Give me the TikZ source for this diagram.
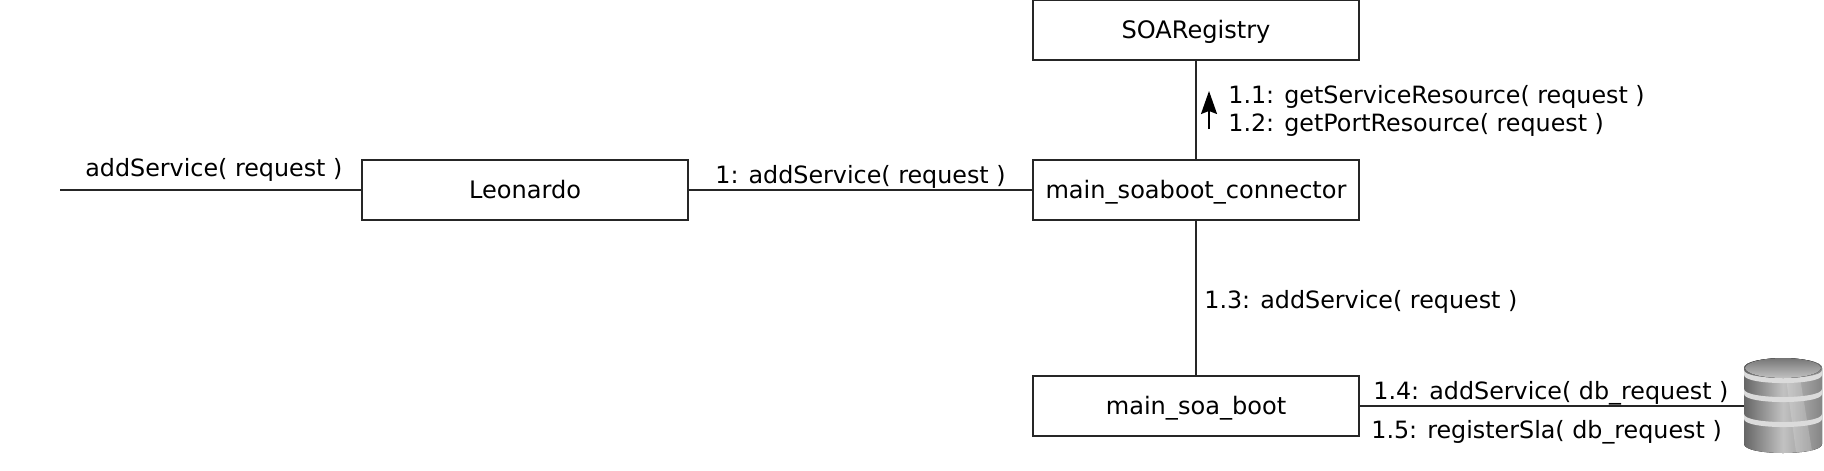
\documentclass[tikz,border=0pt]{standalone}
\usepackage{fontspec}
\setmainfont{DejaVu Sans}
\usetikzlibrary{arrows.meta}
\definecolor{dbdark}{gray}{0.40}
\definecolor{dblight}{gray}{0.76}
\definecolor{dbrim}{gray}{0.86}
\tikzset{
  classbox/.style={draw=black!85,line width=1.3pt,minimum width=6.52cm,minimum height=1.2cm,inner sep=0pt,text height=12pt,text depth=2pt,font=\fontsize{13.7}{16}\selectfont},
  msg/.style={anchor=west,inner sep=0pt,align=left,font=\fontsize{13.55}{16}\selectfont},
  wire/.style={draw=black!85,line width=1.3pt},
  disc/.style={left color=dbdark,right color=dbdark!80,middle color=dblight}
}
\begin{document}
\begin{tikzpicture}[x=0.02cm,y=-0.02cm]
\useasboundingbox (0,0) rectangle (1824,470);
% Boxes
\node[classbox] (registry) at (1196,30) {SOARegistry};
\node[classbox] (connector) at (1196,190) {main\_soaboot\_connector};
\node[classbox] (leonardo) at (525,190) {Leonardo};
\node[classbox] (boot) at (1196,406) {main\_soa\_boot};
\coordinate (start) at (60,190);
\coordinate (tail) at (1209,129);
\coordinate (head) at (1209,91);
\node[minimum width=1.56cm,minimum height=1.9cm,inner sep=0pt] (db) at (1783,406) {};
% Links
\draw[wire] (start) -- (leonardo);
\draw[wire] (leonardo) -- (connector);
\draw[wire] (connector) -- (registry);
\draw[wire] (connector) -- (boot);
\draw[wire] (boot) -- (db.west);
\draw[-{Stealth[length=0.46cm,width=0.32cm,inset=0.06cm]},line width=0.9pt] (tail) -- (head);
% Database
\fill[disc] (1744,368) .. controls (1744,355) and (1822,355) .. (1822,368) -- (1822,444) .. controls (1822,456) and (1744,456) .. (1744,444) -- cycle;
\fill[white,opacity=0.18] (1786,378) -- (1800,378) -- (1812,451) -- (1796,452) -- cycle;
\foreach \yrim in {370,389,414} {
  \fill[dbrim] (1744,\yrim) .. controls (1744,\yrim+10.7) and (1822,\yrim+10.7) .. (1822,\yrim) -- (1822,\yrim+5) .. controls (1822,\yrim+15.7) and (1744,\yrim+15.7) .. (1744,\yrim+5) -- cycle;
}
\fill[top color=dbdark!90,bottom color=dblight] (1783,368) ellipse[x radius=38,y radius=10];
% Messages
\node[msg] (m0) at (85,169.5) {addService( request )};
\node[msg] (m1) at (715,177) {1: addService( request )};
\node[msg] (m2) at (1228,111) {1.1: getServiceResource( request )\\1.2: getPortResource( request )};
\node[msg] (m3) at (1204,302) {1.3: addService( request )};
\node[msg] (m4) at (1373,393) {1.4: addService( db\_request )};
\node[msg] (m5) at (1371,432) {1.5: registerSla( db\_request )};
\end{tikzpicture}
\end{document}
